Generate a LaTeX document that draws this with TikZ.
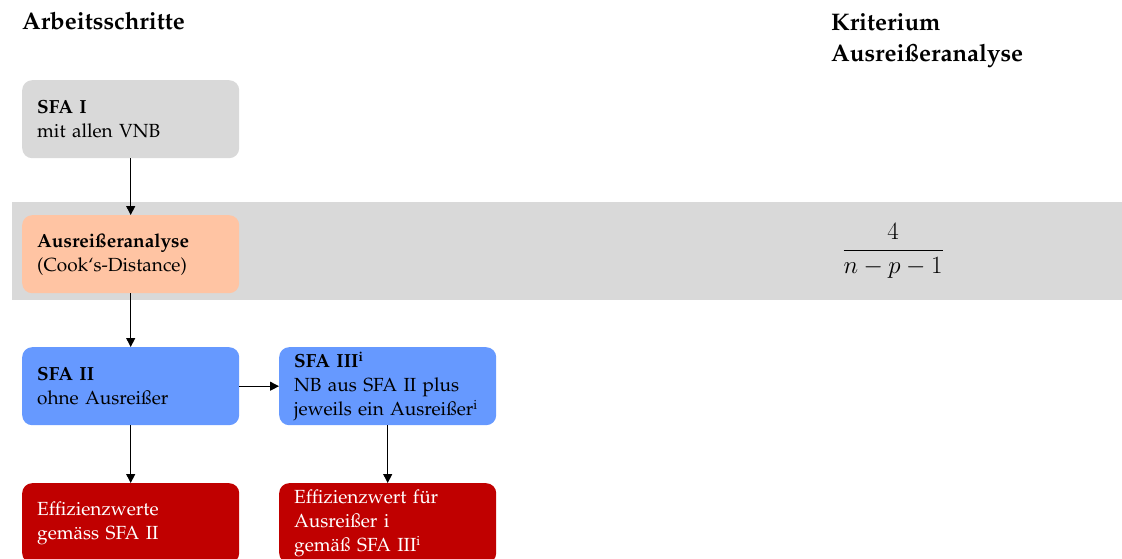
\documentclass[tikz,border=0pt]{standalone}
\usepackage[T1]{fontenc}
\renewcommand{\rmdefault}{ppl}
\usetikzlibrary{arrows.meta}
\definecolor{bandgray}{HTML}{D9D9D9}
\definecolor{peach}{HTML}{FFC4A3}
\definecolor{sfablue}{HTML}{6699FF}
\definecolor{effred}{HTML}{C00000}
\tikzset{
  stepbox/.style={rounded corners=10pt, minimum width=217pt, minimum height=78pt,
    text width=187pt, inner xsep=15pt, inner ysep=0pt, align=left, anchor=north west,
    font=\fontsize{19}{24}\selectfont},
  head/.style={anchor=base west, inner sep=0pt, font=\fontsize{24}{30}\selectfont\bfseries},
  arr/.style={-{Triangle[length=9pt,width=9pt]}, line width=0.9pt, black}
}
\begin{document}
\begin{tikzpicture}[x=1pt,y=-1pt]
\useasboundingbox (0,0) rectangle (1122,559);
\clip (0,0) rectangle (1122,559);
\node (band) [fill=bandgray, minimum width=1110pt, minimum height=98pt, anchor=north west, inner sep=0pt] at (12,202) {};
\node[head] (h1) at (22,30) {Arbeitsschritte};
\node[head] (k1) at (831,31) {Kriterium};
\node[head] (k2) at (831,62) {Ausrei\ss{}eranalyse};
\node (crit) at (893,251) {\fontsize{25}{28}\selectfont$\displaystyle\frac{4}{n-p-1}$};
\node[stepbox, fill=bandgray] (s1) at (22,80) {\textbf{SFA I}\\mit allen VNB};
\node[stepbox, fill=peach] (aa) at (22,215) {\textbf{Ausrei\ss{}eranalyse}\\(Cook`s-Distance)};
\node[stepbox, fill=sfablue] (s2) at (22,347) {\textbf{SFA II}\\ohne Ausrei\ss{}er};
\node[stepbox, fill=sfablue] (s3) at (279,347) {\textbf{SFA III\textsuperscript{i}}\\NB aus SFA II plus\\jeweils ein Ausrei\ss{}er\textsuperscript{i}};
\node[stepbox, fill=effred, text=white, minimum height=80pt] (e1) at (22,483) {Effizienzwerte\\gem\"ass SFA II};
\node[stepbox, fill=effred, text=white, minimum height=80pt] (e2) at (279,483) {Effizienzwert f\"ur\\Ausrei\ss{}er i\\gem\"a\ss{} SFA III\textsuperscript{i}};
\draw[arr] (s1.south) -- (aa.north);
\draw[arr] (aa.south) -- (s2.north);
\draw[arr] (s2.east) -- (s3.west);
\draw[arr] (s2.south) -- (e1.north);
\draw[arr] (s3.south) -- (e2.north);
\end{tikzpicture}
\end{document}
